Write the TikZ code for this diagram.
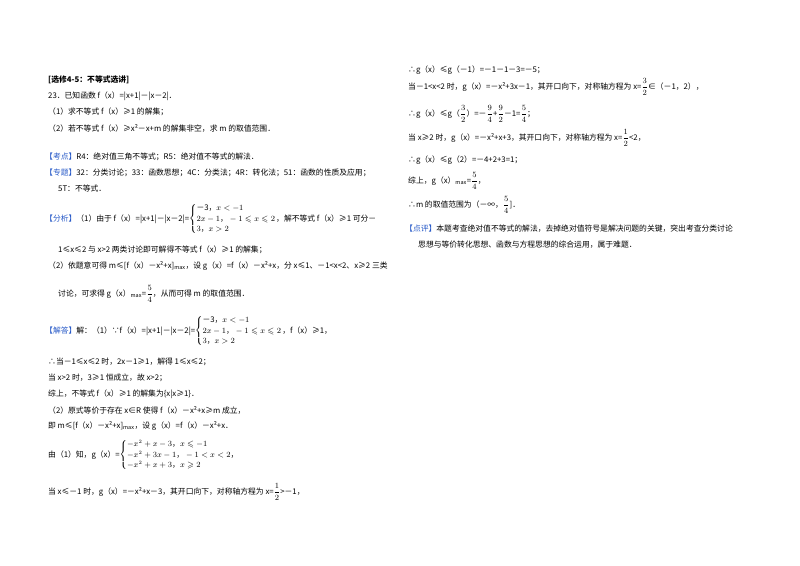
\documentclass[tikz,border=0pt]{standalone}
\usepackage{amsmath,amssymb}
\usepackage{fontspec}
\setmainfont{Noto Sans CJK SC}
\definecolor{tagblue}{RGB}{40,90,200}
\begin{document}
\begin{tikzpicture}[x=1pt,y=-1pt,
  t/.style={anchor=west,inner sep=0pt,font=\fontsize{7.8}{9}\selectfont},
  b/.style={t,font=\fontsize{7.8}{9}\selectfont\bfseries}]
\useasboundingbox[fill=white] (0,0) rectangle (800,565);
\newcommand{\tg}[1]{\textcolor{tagblue}{【#1】}}
\renewcommand{\arraystretch}{1.15}
% left column
\node[b] (a1) at (48,80) {[选修4-5：不等式选讲]};
\node[t] (a2) at (48,96) {23．已知函数 f（x）=|x+1|－|x－2|．};
\node[t] (a3) at (48,112) {（1）求不等式 f（x）≥1 的解集；};
\node[t] (a4) at (48,128) {（2）若不等式 f（x）≥x²－x+m 的解集非空，求 m 的取值范围．};
\node[t] (a5) at (45,157) {\tg{考点}R4：绝对值三角不等式；R5：绝对值不等式的解法．};
\node[t] (a6) at (45,173) {\tg{专题}32：分类讨论；33：函数思想；4C：分类法；4R：转化法；51：函数的性质及应用；};
\node[t] (a7) at (58,189) {5T：不等式．};
\node[t] (a8) at (45,219) {\tg{分析}（1）由于 f（x）=|x+1|－|x－2|=$\left\{\begin{array}{@{}l@{}}\text{－3，}x<-1\\ 2x-1\text{，}-1\leqslant x\leqslant 2\\ 3\text{，}x>2\end{array}\right.$，解不等式 f（x）≥1 可分－};
\node[t] (a9) at (58,250) {1≤x≤2 与 x>2 两类讨论即可解得不等式 f（x）≥1 的解集；};
\node[t] (a10) at (48,266) {（2）依题意可得 m≤[f（x）－x²+x]$_{\max}$，设 g（x）=f（x）－x²+x，分 x≤1、－1<x<2、x≥2 三类};
\node[t] (a11) at (58,294) {讨论，可求得 g（x）$_{\max}$=$\dfrac{5}{4}$，从而可得 m 的取值范围．};
\node[t] (a12) at (45,331) {\tg{解答}解：（1）∵f（x）=|x+1|－|x－2|=$\left\{\begin{array}{@{}l@{}}\text{－3，}x<-1\\ 2x-1\text{，}-1\leqslant x\leqslant 2\\ 3\text{，}x>2\end{array}\right.$，f（x）≥1，};
\node[t] (a13) at (48,362) {∴当－1≤x≤2 时，2x－1≥1，解得 1≤x≤2；};
\node[t] (a14) at (48,378) {当 x>2 时，3≥1 恒成立，故 x>2；};
\node[t] (a15) at (48,394) {综上，不等式 f（x）≥1 的解集为\{x|x≥1\}．};
\node[t] (a16) at (48,410) {（2）原式等价于存在 x∈R 使得 f（x）－x²+x≥m 成立，};
\node[t] (a17) at (48,426) {即 m≤[f（x）－x²+x]$_{\max}$，设 g（x）=f（x）－x²+x．};
\node[t] (a18) at (48,455) {由（1）知，g（x）=$\left\{\begin{array}{@{}l@{}}-x^2+x-3\text{，}x\leqslant-1\\ -x^2+3x-1\text{，}-1<x<2\text{，}\\ -x^2+x+3\text{，}x\geqslant 2\end{array}\right.$};
\node[t] (a19) at (48,492) {当 x≤－1 时，g（x）=－x²+x－3，其开口向下，对称轴方程为 x=$\dfrac{1}{2}$>－1，};
% right column
\node[t] (b1) at (408,70) {∴g（x）≤g（－1）=－1－1－3=－5；};
\node[t] (b2) at (408,87) {当－1<x<2 时，g（x）=－x²+3x－1，其开口向下，对称轴方程为 x=$\dfrac{3}{2}$∈（－1，2），};
\node[t] (b3) at (408,114) {∴g（x）≤g（$\dfrac{3}{2}$）=－$\dfrac{9}{4}$+$\dfrac{9}{2}$－1=$\dfrac{5}{4}$；};
\node[t] (b4) at (408,138) {当 x≥2 时，g（x）=－x²+x+3，其开口向下，对称轴方程为 x=$\dfrac{1}{2}$<2，};
\node[t] (b5) at (408,160) {∴g（x）≤g（2）=－4+2+3=1；};
\node[t] (b6) at (408,181) {综上，g（x）$_{\max}$=$\dfrac{5}{4}$，};
\node[t] (b7) at (408,205) {∴m 的取值范围为（－∞，$\dfrac{5}{4}$]．};
\node[t] (b8) at (405,229) {\tg{点评}本题考查绝对值不等式的解法，去掉绝对值符号是解决问题的关键，突出考查分类讨论};
\node[t] (b9) at (418,245) {思想与等价转化思想、函数与方程思想的综合运用，属于难题．};
\end{tikzpicture}
\end{document}
